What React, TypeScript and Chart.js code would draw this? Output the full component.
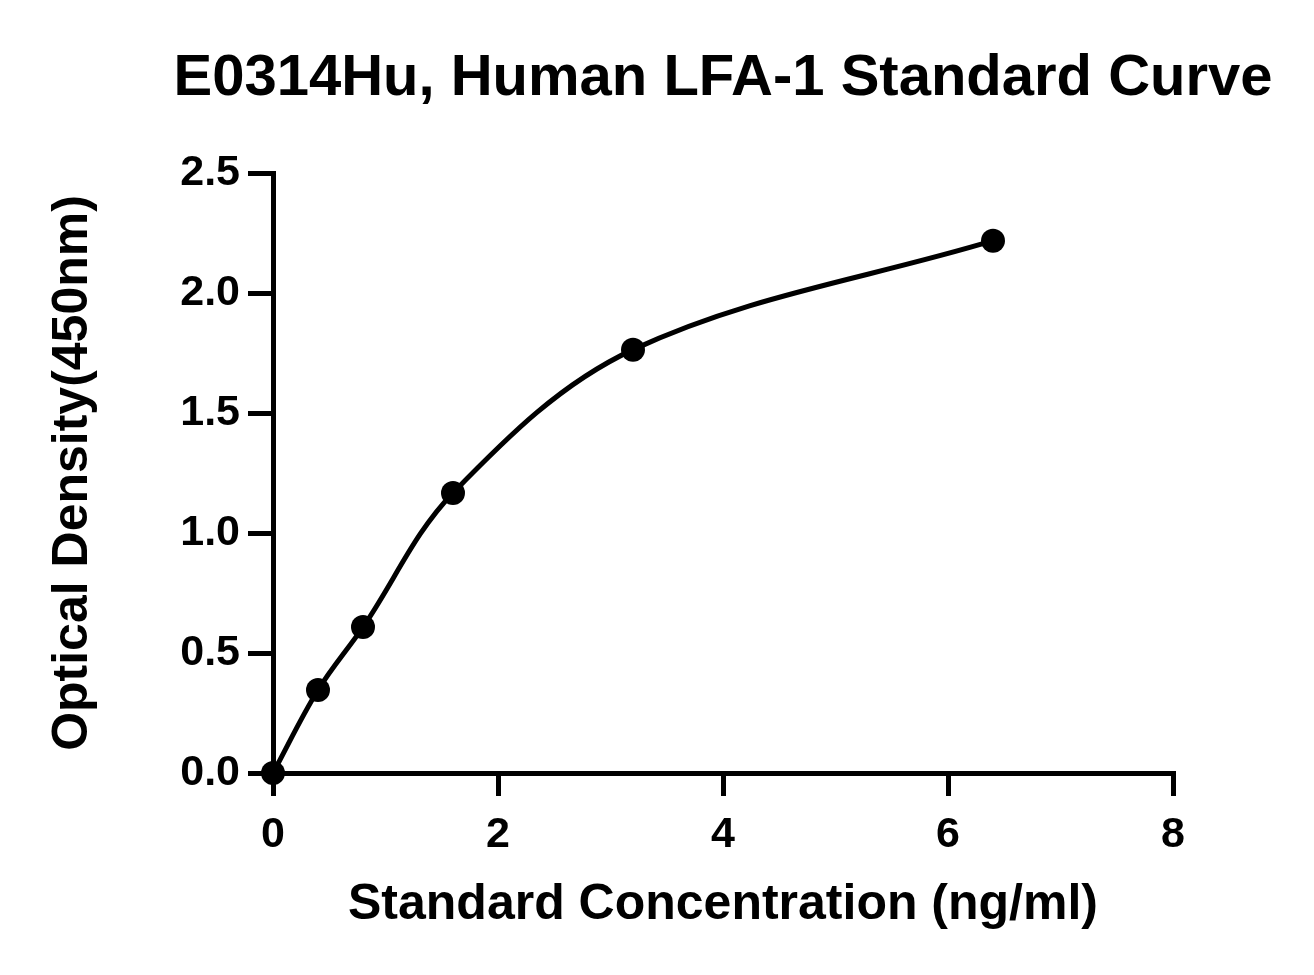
import React, { useEffect, useRef } from "react";
import { Chart, registerables } from "chart.js";

Chart.register(...registerables);

const chartTitle = "E0314Hu, Human LFA-1 Standard Curve";
const xAxisTitle = "Standard Concentration (ng/ml)";
const yAxisTitle = "Optical Density(450nm)";
const concentrations = [0, 0.4, 0.8, 1.6, 3.2, 6.4];
const opticalDensity = [0.0, 0.346, 0.608, 1.167, 1.764, 2.218];
const xTicks = [0, 2, 4, 6, 8];
const yTicks = [0, 0.5, 1.0, 1.5, 2.0, 2.5];

const FONT = '"Liberation Sans", Arial, Helvetica, sans-serif';

const centeredTitlePlugin = {
  id: "centeredTitle",
  afterDraw(chart: any) {
    const { ctx, chartArea } = chart;
    ctx.save();
    ctx.fillStyle = "#000";
    ctx.font = `bold 58px ${FONT}`;
    ctx.textAlign = "center";
    ctx.textBaseline = "alphabetic";
    ctx.fillText(chartTitle, (chartArea.left + chartArea.right) / 2, chartArea.top - 78);
    ctx.restore();
  },
};

export default function App() {
  const canvasRef = useRef<HTMLCanvasElement | null>(null);

  useEffect(() => {
    const canvas = canvasRef.current;
    if (!canvas) return;
    const points = concentrations.map((x, i) => ({ x, y: opticalDensity[i] }));
    const chart = new Chart(canvas, {
      type: "line",
      data: {
        datasets: [
          {
            data: points,
            borderColor: "#000",
            backgroundColor: "#000",
            borderWidth: 5,
            pointRadius: 12,
            pointHoverRadius: 12,
            pointBackgroundColor: "#000",
            pointBorderColor: "#000",
            pointBorderWidth: 0,
            tension: 0.35,
            fill: false,
            clip: false as any,
          },
        ],
      },
      options: {
        responsive: false,
        animation: false,
        events: [],
        layout: { padding: { top: 173, left: 0, right: 141, bottom: 0 } },
        plugins: {
          legend: { display: false },
          tooltip: { enabled: false },
          title: { display: false },
        },
        scales: {
          x: {
            type: "linear",
            min: 0,
            max: 8,
            afterBuildTicks: (scale: any) => {
              scale.ticks = xTicks.map((v) => ({ value: v }));
            },
            afterFit: (scale: any) => {
              scale.height = 202;
            },
            ticks: {
              color: "#000",
              font: { family: FONT, size: 43, weight: "bold" },
              padding: 13,
              maxRotation: 0,
              autoSkip: false,
              callback: (v: any) => String(v),
            },
            grid: {
              display: true,
              drawOnChartArea: false,
              drawTicks: true,
              tickLength: 23,
              tickWidth: 5,
              tickColor: "#000",
              color: "#000",
              lineWidth: 5,
            },
            border: { display: true, color: "#000", width: 5 },
            title: {
              display: true,
              text: xAxisTitle,
              color: "#000",
              font: { family: FONT, size: 50, weight: "bold", lineHeight: 1.2 },
              padding: { top: 0, bottom: 40 },
            },
          },
          y: {
            type: "linear",
            min: 0,
            max: 2.5,
            afterBuildTicks: (scale: any) => {
              scale.ticks = yTicks.map((v) => ({ value: v }));
            },
            afterFit: (scale: any) => {
              scale.width = 273;
            },
            ticks: {
              color: "#000",
              font: { family: FONT, size: 43, weight: "bold" },
              padding: 8,
              autoSkip: false,
              callback: (v: any) => Number(v).toFixed(1),
            },
            grid: {
              display: true,
              drawOnChartArea: false,
              drawTicks: true,
              tickLength: 25,
              tickWidth: 5,
              tickColor: "#000",
              color: "#000",
              lineWidth: 5,
            },
            border: { display: true, color: "#000", width: 5 },
            title: {
              display: true,
              text: yAxisTitle,
              color: "#000",
              font: { family: FONT, size: 50, weight: "bold", lineHeight: 1.2 },
              padding: { top: 43, bottom: 0 },
            },
          },
        },
      } as any,
      plugins: [centeredTitlePlugin],
    });
    return () => chart.destroy();
  }, []);

  return (
    <div style={{ position: "absolute", left: 0, top: 0, width: 1314, height: 975, background: "#fff" }}>
      <canvas ref={canvasRef} width={1314} height={975} style={{ display: "block", width: 1314, height: 975 }} />
    </div>
  );
}
